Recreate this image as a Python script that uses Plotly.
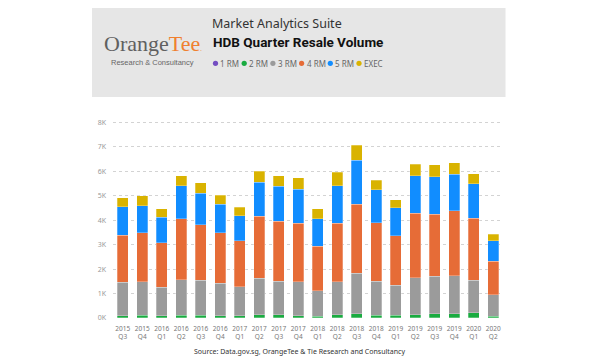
import plotly.graph_objects as go

# ---- data ----
years = ["2015", "2015", "2016", "2016", "2016", "2016", "2017", "2017", "2017", "2017",
         "2018", "2018", "2018", "2018", "2019", "2019", "2019", "2019", "2020", "2020"]
quarters = ["Q3", "Q4", "Q1", "Q2", "Q3", "Q4", "Q1", "Q2", "Q3", "Q4",
            "Q1", "Q2", "Q3", "Q4", "Q1", "Q2", "Q3", "Q4", "Q1", "Q2"]

rm1 = [10, 12, 15, 8, 10, 12, 15, 10, 12, 8, 10, 12, 15, 10, 12, 15, 12, 15, 18, 8]
rm2 = [90, 100, 70, 100, 100, 80, 70, 130, 120, 90, 70, 120, 160, 100, 100, 120, 160, 160, 190, 60]
rm3 = [1370, 1370, 1165, 1462, 1430, 1328, 1185, 1480, 1378, 1382,
       1040, 1348, 1665, 1390, 1218, 1515, 1528, 1555, 1332, 882]
rm4 = [1920, 2010, 1830, 2490, 2280, 2070, 1880, 2540, 2440, 2390,
       1810, 2390, 2810, 2400, 2040, 2640, 2540, 2660, 2530, 1380]
rm5 = [1150, 1100, 1030, 1350, 1280, 1160, 1030, 1400, 1430, 1390,
       1120, 1540, 1800, 1350, 1130, 1520, 1540, 1480, 1410, 830]
execu = [370, 410, 350, 410, 420, 370, 340, 450, 440, 480,
         420, 550, 620, 390, 340, 470, 490, 480, 420, 270]

series_names = ["1 RM", "2 RM", "3 RM", "4 RM", "5 RM", "EXEC"]
series_values = [rm1, rm2, rm3, rm4, rm5, execu]
series_colors = ["#744EC2", "#1AAB40", "#9B9B9B", "#E66C37", "#118DFF", "#D9B300"]

y_ticks = [0, 1000, 2000, 3000, 4000, 5000, 6000, 7000, 8000]
y_tick_labels = ["0K", "1K", "2K", "3K", "4K", "5K", "6K", "7K", "8K"]

cats = [f"{y}<br>{q}" for y, q in zip(years, quarters)]

# ---- layout geometry (pixels, in window coordinates) ----
OFF = 8                      # page body margin
W, H = 600 - OFF, 360 - OFF  # figure size
L, R, T, B = 113, 503, 115, 318


def px(x):
    return (x - L) / (R - L)


def py(y):
    return (B - y) / (B - T)


fig = go.Figure()
for name, vals, col in zip(series_names, series_values, series_colors):
    fig.add_trace(go.Bar(
        x=cats, y=vals, name=name,
        marker=dict(color=col, line=dict(color="rgba(255,255,255,0.45)", width=0.6)),
        showlegend=False,
    ))

shapes = [
    dict(type="rect", xref="paper", yref="paper",
         x0=px(92), x1=px(505.5), y0=py(97), y1=py(6),
         fillcolor="#E6E6E6", line=dict(width=0), layer="below"),
]

font_main = "Noto Sans"
annotations = [
    dict(text="Market Analytics Suite", x=px(210), y=py(23.5), xref="paper", yref="paper",
         xanchor="left", yanchor="middle", showarrow=False,
         font=dict(family=font_main, size=12.5, color="#333333")),
    dict(text="<b>HDB Quarter Resale Volume</b>", x=px(211), y=py(42.5), xref="paper", yref="paper",
         xanchor="left", yanchor="middle", showarrow=False,
         font=dict(family="Roboto", size=13.5, color="#111111")),
    dict(text="Orange<span style='color:#F0802F'>Tee</span><span style='color:#F0802F;font-size:6px'>.</span>",
         x=px(101.5), y=py(43), xref="paper", yref="paper",
         xanchor="left", yanchor="middle", showarrow=False,
         font=dict(family="Liberation Serif", size=22, color="#606060")),
    dict(text="Research &amp; Consultancy", x=px(152), y=py(62.5), xref="paper", yref="paper",
         xanchor="center", yanchor="middle", showarrow=False,
         font=dict(family="Liberation Sans", size=7.5, color="#666666")),
    dict(text="Source: Data.gov.sg, OrangeTee &amp; Tie Research and Consultancy",
         x=px(299), y=py(351.5), xref="paper", yref="paper",
         xanchor="center", yanchor="middle", showarrow=False,
         font=dict(family=font_main, size=7, color="#333333")),
]

# legend drawn as circles + labels
leg_x0 = 215.5
leg_step = 28.7
leg_y = 63.3
r = 2.6
for i, (name, col) in enumerate(zip(series_names, series_colors)):
    cx = leg_x0 + i * leg_step
    shapes.append(dict(type="circle", xref="paper", yref="paper",
                       x0=px(cx - r), x1=px(cx + r), y0=py(leg_y + r), y1=py(leg_y - r),
                       fillcolor=col, line=dict(width=0)))
    annotations.append(dict(text=name, x=px(cx + r + 0.3), y=py(leg_y), xref="paper", yref="paper",
                            xanchor="left", yanchor="middle", showarrow=False,
                            font=dict(family=font_main, size=8, color="#666666")))

fig.update_layout(
    width=W, height=H,
    margin=dict(l=L - OFF, r=600 - R, t=T - OFF, b=360 - B, pad=0),
    paper_bgcolor="white", plot_bgcolor="white",
    barmode="stack", bargap=0.42,
    shapes=shapes, annotations=annotations,
    font=dict(family=font_main),
    xaxis=dict(type="category", showgrid=False, showline=False, ticks="",
               tickfont=dict(size=6.5, color="#777777"), tickangle=0,
               ticklabelstandoff=5, fixedrange=True),
    yaxis=dict(range=[0, 8300], tickvals=y_ticks, ticktext=y_tick_labels,
               showgrid=True, gridcolor="#D3D3D3", griddash="dot", gridwidth=1,
               zeroline=False, showline=False, ticks="",
               tickfont=dict(size=7, color="#999999"), ticklabelstandoff=6,
               fixedrange=True),
)

fig.write_html("out.html")
